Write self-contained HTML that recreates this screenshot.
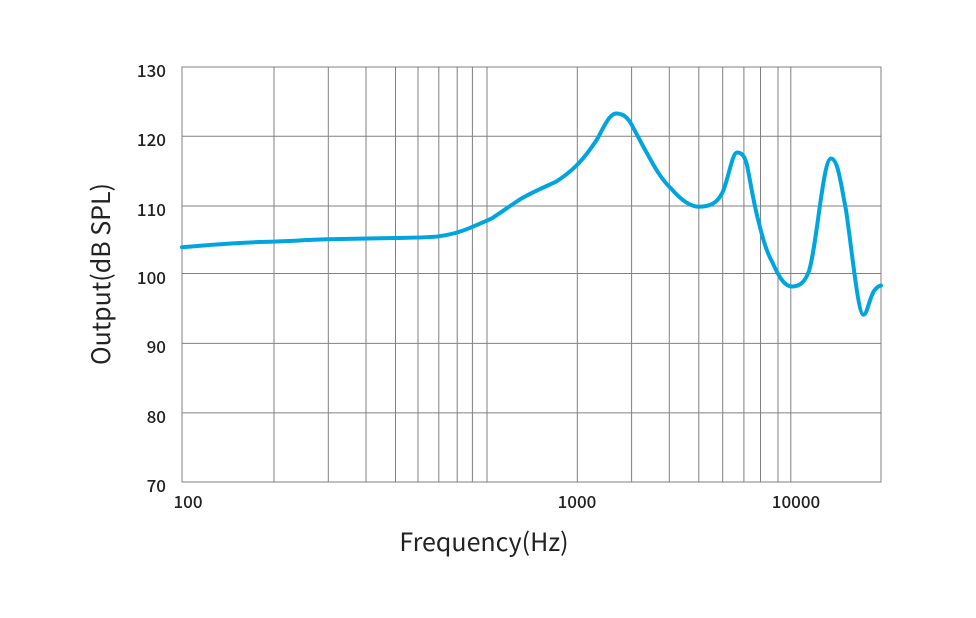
<!DOCTYPE html>
<html><head><style>body{margin:0;background:#fff}</style></head><body>
<svg width="976" height="613" viewBox="0 0 976 613" xmlns="http://www.w3.org/2000/svg" font-family="'Noto Sans CJK SC', 'Liberation Sans', sans-serif">
<g stroke="#808080" stroke-width="1" fill="none">
<rect x="182" y="67" width="699" height="415"/>
<line x1="182" x2="881" y1="136.2" y2="136.2"/>
<line x1="182" x2="881" y1="206" y2="206"/>
<line x1="182" x2="881" y1="273.5" y2="273.5"/>
<line x1="182" x2="881" y1="343.4" y2="343.4"/>
<line x1="182" x2="881" y1="412.9" y2="412.9"/>
<path d="M274 67V482M328.3 67V482M366 67V482M395.5 67V482M418 67V482M438.8 67V482M457.2 67V482M472.4 67V482M487 67V482M577.3 67V482M631.6 67V482M669.3 67V482M698.8 67V482M722.7 67V482M743.9 67V482M760.5 67V482M778 67V482M790.8 67V482"/>
</g>
<path fill="none" stroke="#00a5df" stroke-width="4" stroke-linejoin="round" stroke-linecap="round"
d="M182 247.2 C220 244,250 242,274 241.6 C300 240.5,315 239.6,328 239.3 C360 238.6,380 238.3,395.5 238 C415 237.6,430 237.5,439 236.3 C452 234.5,460 232,469 228.3 C478 224.5,485 221.5,492 218.3 C500 213,510 206,519 200 C532 192,545 187,556 181.7 C565 176,571 171,577 165 C585 157,592 147,597.6 138.5 C604 126,610 113.5,616 113.5 C622 113.5,626 116,630 121.9 C637 134,642 145,648 155 C655 168,662 180,671 188.4 C681 200,690 206.7,699 206.7 C710 206.7,717 203,722 193.4 C728 182,732 152.5,737 152.5 C743 152.5,745 158,747 165 C751 185,754 205,758.6 221.6 C763 240,767 253,772 261.5 C778 275,784 286.5,792 286.5 C800 286.5,805 282,809 271 C817 245,823 158.5,831 158.5 C838 158.5,841 185,846 210 C852 250,858 314.7,863.5 314.7 C867 314.7,869 300,873.6 291.5 C876 288,878 286,881 285.5"/>
<g font-size="17" fill="#222" text-anchor="end" font-weight="500">
<text x="166" y="77">130</text><text x="166" y="146">120</text><text x="166" y="216">110</text><text x="166" y="284">100</text><text x="166" y="353">90</text><text x="166" y="423">80</text><text x="166" y="492">70</text>
</g>
<g font-size="17" fill="#222" text-anchor="middle" font-weight="500">
<text x="188" y="508">100</text><text x="577" y="508">1000</text><text x="796" y="508">10000</text>
</g>
<text x="484" y="551" font-size="25" fill="#222" text-anchor="middle">Frequency(Hz)</text>
<text transform="translate(110,274) rotate(-90)" font-size="25" fill="#222" text-anchor="middle">Output(dB SPL)</text>
</svg>
</body></html>
